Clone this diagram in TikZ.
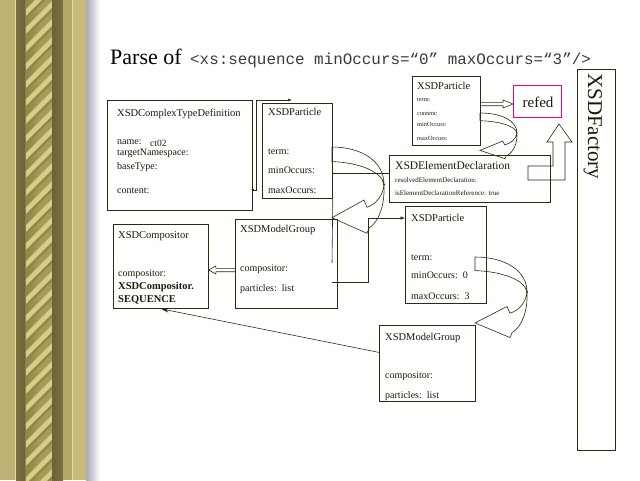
\documentclass[tikz,border=0pt]{standalone}
\usepackage{fontspec}
\setmainfont{Liberation Serif}
\setmonofont{Liberation Mono}
\usetikzlibrary{arrows.meta}

\definecolor{ink}{HTML}{2E2A0C}
\definecolor{txt}{HTML}{1C1A08}
\definecolor{codetxt}{HTML}{3A3A36}
\definecolor{tanA}{HTML}{BDB273}
\definecolor{tanB}{HTML}{C6BB7B}
\definecolor{tanC}{HTML}{B3A866}
\definecolor{tanhi}{HTML}{E6DC9A}
\definecolor{tandk}{HTML}{7A7042}
\definecolor{tandk2}{HTML}{6C6236}
\definecolor{rope}{HTML}{A59A5A}
\definecolor{ropehi}{HTML}{D8CD83}
\definecolor{ropedk}{HTML}{8C8149}
\definecolor{haze}{HTML}{A9A7B9}

\begin{document}
\begin{tikzpicture}[x=1pt,y=-1pt,
  box/.style={draw=ink, line width=0.8pt, anchor=north west, inner sep=0pt},
  lbl/.style={anchor=base west, inner sep=0pt, text=txt, font=\fontsize{10}{12}\selectfont},
  ttl/.style={lbl, font=\fontsize{10.5}{12}\selectfont},
  small/.style={lbl, font=\fontsize{7}{8}\selectfont},
  tiny/.style={lbl, font=\fontsize{6.3}{7}\selectfont},
  bold/.style={lbl, font=\fontsize{10.5}{12}\selectfont\bfseries},
  conn/.style={draw=ink, line width=0.6pt},
  blockarr/.style={draw=ink, line width=0.6pt},
  curvarr/.pic={
    \draw[blockarr] (0,0) -- (0,14)
      (0,0) .. controls (30,0) and (52,14) .. (52,36)
      (0,14) .. controls (28,15) and (50,24) .. (52,36)
      (52,36) .. controls (51,47) and (44,55) .. (35,58)
        -- (32,51) -- (0,68) -- (35,83) -- (37,78)
        .. controls (47,72) and (53,55) .. (52,36);
    \fill[ink] (52,36) circle (1.1);
  }]

\useasboundingbox (0,0) rectangle (640,480);
\fill[white] (0,0) rectangle (640,480);

% ---- decorative gilt frame on the left ----
\fill[tanA] (0,0) rectangle (16,480);
\shade[left color=tandk, right color=tandk2] (16,0) rectangle (25,480);
\fill[rope] (25,0) rectangle (52,480);
\begin{scope}
  \clip (25,0) rectangle (52,480);
  \shade[left color=ropedk, right color=rope, middle color=rope] (25,0) rectangle (52,480);
  \foreach \k in {-3,...,28} {
    \fill[ropehi] (26,{\k*18+27}) -- (52,{\k*18+1}) -- (52,{\k*18+8}) -- (26,{\k*18+34}) -- cycle;
    \fill[ropedk!85!rope] (26,{\k*18+34}) -- (52,{\k*18+8}) -- (52,{\k*18+11}) -- (26,{\k*18+37}) -- cycle;
  }
\end{scope}
\shade[left color=tandk2, right color=tandk] (52,0) rectangle (63,480);
\fill[tanC] (63,0) rectangle (72,480);
\fill[tanB] (73,0) rectangle (86,480);
\draw[tanhi, line width=0.8pt] (15.5,0) -- (15.5,480) (72.5,0) -- (72.5,480);
\shade[left color=haze, right color=white] (86,0) rectangle (100,480);

% ---- heading ----
\node[anchor=base west, inner sep=0pt, font=\fontsize{22}{24}\selectfont] (head) at (110,64) {Parse of};
\node[anchor=base west, inner sep=0pt, text=codetxt, font=\ttfamily\fontsize{15.9}{18}\selectfont] (code) at (190,64) {<xs:sequence minOccurs=“0” maxOccurs=“3”/>};

% ---- object boxes ----
\node[box, minimum width=145pt, minimum height=110pt] (ctd) at (107,100) {};
\node[box, minimum width=70pt, minimum height=95pt] (pa) at (262,103) {};
\node[box, minimum width=68pt, minimum height=69pt] (pc) at (412,76) {};
\node[box, draw=magenta, minimum width=48pt, minimum height=32pt] (refed) at (513,85) {};
\node[box, minimum width=161pt, minimum height=47pt] (ed) at (389,155) {};
\node[box, minimum width=38pt, minimum height=381pt] (fac) at (577,69) {};
\node[box, minimum width=95pt, minimum height=84pt] (comp) at (113,224) {};
\node[box, minimum width=102pt, minimum height=89pt] (mgl) at (235,219) {};
\node[box, minimum width=81pt, minimum height=97pt] (pb) at (405,206) {};
\node[box, minimum width=96pt, minimum height=76pt] (mgb) at (379,325) {};

% XSDComplexTypeDefinition
\node[ttl] (ctdT) at (117,116) {XSDComplexTypeDefinition};
\node[lbl] (ctdN) at (117,144) {name:};
\node[lbl, font=\fontsize{9.5}{11}\selectfont] (ctdNv) at (150,146) {ct02};
\node[lbl] (ctdTn) at (117,155.5) {targetNamespace:};
\node[lbl] (ctdB) at (117,169) {baseType:};
\node[lbl] (ctdC) at (117,193) {content:};

% XSDParticle (upper left)
\node[ttl] (paT) at (268,115) {XSDParticle};
\node[lbl] (paTe) at (268,154) {term:};
\node[lbl] (paMi) at (268,173) {minOccurs:};
\node[lbl] (paMa) at (268,193) {maxOccurs:};

% XSDParticle (upper right)
\node[ttl] (pcT) at (417,89) {XSDParticle};
\node[tiny] (pcTe) at (417,101) {term:};
\node[tiny] (pcC) at (417,115) {content:};
\node[tiny] (pcMi) at (417,126) {minOccurs:};
\node[tiny] (pcMa) at (417,140) {maxOccurs:};

\node[anchor=base, inner sep=0pt, text=txt, font=\fontsize{15}{17}\selectfont] (refT) at (538,107) {refed};

% XSDElementDeclaration
\node[lbl, font=\fontsize{11.5}{13}\selectfont] (edT) at (395,169) {XSDElementDeclaration};
\node[small] (edR) at (395,182) {resolvedElementDeclaration:};
\node[small] (edI) at (395,195) {isElementDeclarationReference: true};

% XSDFactory
\node[anchor=base west, inner sep=0pt, rotate=-90, text=txt, font=\fontsize{21}{24}\selectfont] (facT) at (588,73) {XSDFactory};

% XSDCompositor
\node[ttl] (compT) at (118,238) {XSDCompositor};
\node[lbl] (compC) at (118,276) {compositor:};
\node[bold] (compV1) at (118,289) {XSDCompositor.};
\node[bold] (compV2) at (118,302) {SEQUENCE};

% XSDModelGroup (left)
\node[ttl] (mglT) at (240,232) {XSDModelGroup};
\node[lbl] (mglC) at (240,271) {compositor:};
\node[lbl] (mglP) at (240,291) {particles:\ \ list};

% XSDParticle (middle right)
\node[ttl] (pbT) at (411,221) {XSDParticle};
\node[lbl] (pbTe) at (411,260) {term:};
\node[lbl] (pbMi) at (411,278) {minOccurs:\ \ 0};
\node[lbl] (pbMa) at (411,299) {maxOccurs:\ \ 3};

% XSDModelGroup (bottom)
\node[ttl] (mgbT) at (385,340) {XSDModelGroup};
\node[lbl] (mgbC) at (385,378) {compositor:};
\node[lbl] (mgbP) at (385,398) {particles:\ \ list};

% ---- connectors ----
\coordinate (paIn) at (292,100);
\draw[conn, -{Latex[length=4pt,width=3pt]}] (ctd.east |- 0,190) -- ++(3,0) |- (paIn);
\fill[ink] (ctd.east |- 0,190) circle (1.5);

\coordinate (paDrop) at (332,263);
\draw[conn] (pa.south east) -- (paDrop);

\draw[conn] (pa.east |- 0,173.5) -- (ed.west |- 0,173.5);

\coordinate (elbow) at (368,282);
\draw[conn, -{Latex[length=4.5pt,width=3.5pt]}] ([xshift=-6pt]mgl.east |- elbow) -- (elbow) |- (pb.west |- 0,218);

\draw[conn, -{Stealth[length=8pt,width=4.5pt]}] ([yshift=11pt]mgb.west) -- (comp.south);

% hollow arrows
\coordinate (h1s) at (pc.east |- 0,104);
\coordinate (h1e) at (refed.west |- 0,104);
\draw[blockarr] ([shift={(0,-1.7)}]h1s) -- ([shift={(-10,-1.7)}]h1e) -- ([shift={(-10,-4)}]h1e)
  -- (h1e) -- ([shift={(-10,4)}]h1e) -- ([shift={(-10,1.7)}]h1e) -- ([shift={(0,1.7)}]h1s);

\coordinate (h2s) at (mgl.west |- 0,270);
\coordinate (h2e) at (comp.east |- 0,270);
\draw[blockarr] ([shift={(0,-1.7)}]h2s) -- ([shift={(7,-1.7)}]h2e) -- ([shift={(7,-4)}]h2e)
  -- (h2e) -- ([shift={(7,4)}]h2e) -- ([shift={(7,1.7)}]h2e) -- ([shift={(0,1.7)}]h2s);

% bent-up block arrow towards the refed box
\draw[blockarr] (528,166) -- (553,166) -- (553,142) -- (547,142) -- (559,124) -- (572,142)
  -- (565,142) -- (565,180) -- (528,180) -- cycle;

% curved block arrows
\pic[yscale=1.04] at (332,147) {curvarr};
\pic[xscale=0.71, yscale=0.55] at (480,113) {curvarr};
\pic[yscale=0.97] at (475,257) {curvarr};

\end{tikzpicture}
\end{document}
